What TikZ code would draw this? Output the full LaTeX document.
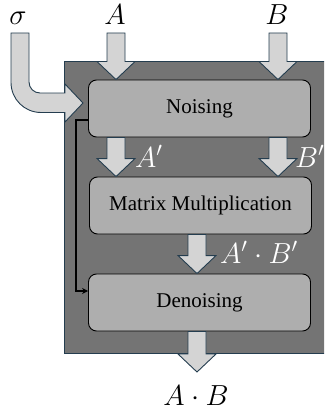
\RequirePackage{fix-cm}
\documentclass[tikz,border=0pt]{standalone}
\usepackage{fontspec}
\setmainfont{Liberation Serif}
\usetikzlibrary{calc,arrows.meta}

\definecolor{panelgray}{HTML}{747474}
\definecolor{boxgray}{HTML}{AEAEAE}
\definecolor{arrowgray}{HTML}{D4D4D4}
\definecolor{slate}{HTML}{243D4F}

\tikzset{
  stagebox/.style={draw=black, line width=0.9pt, fill=boxgray, rounded corners=8pt,
    minimum width=222pt, minimum height=57pt, inner sep=0pt,
    font=\fontsize{21}{24}\selectfont},
  blockarrow/.style={draw=slate, line width=0.9pt, fill=arrowgray, line join=miter},
  panel/.style={draw=slate, line width=1pt, fill=panelgray},
  varlabel/.style={inner sep=0pt, anchor=base, font=\fontsize{29}{32}\selectfont},
  flowlabel/.style={varlabel, text=white, anchor=base west},
  bypass/.style={draw=black, line width=1.2pt, -{Stealth[length=6pt,width=6pt]}},
}

% block arrow pointing down: #1 = top of the shaft, #2 = tip
\newcommand\downblock[2]{%
  \path #1 coordinate (db-s);
  \path #2 coordinate (db-t);
  \draw[blockarrow] ($(db-s)+(-9,0)$) -- ($(db-t)+(-9,-18)$) -- ($(db-t)+(-19,-18)$)
    -- (db-t) -- ($(db-t)+(19,-18)$) -- ($(db-t)+(9,-18)$) -- ($(db-s)+(9,0)$) -- cycle;}

\begin{document}
\begin{tikzpicture}[x=1pt, y=-1pt]
  \useasboundingbox (0,0) rectangle (324,412);
  \clip (0,0) rectangle (324,412);

  % dark panel behind the pipeline
  \draw[panel] (64,62) rectangle (340,353);

  % pipeline stages
  \node[stagebox] (noise)   at (199.5,108.5) {Noising};
  \node[stagebox] (matmul)  at (200.5,205.5) {Matrix Multiplication};
  \node[stagebox] (denoise) at (199.5,302.5) {Denoising};

  % inputs and output
  \node[varlabel] (sig)  at (18,25)   {$\sigma$};
  \node[varlabel] (inA)  at (115,25)  {$A$};
  \node[varlabel] (inB)  at (277,25)  {$B$};
  \node[varlabel] (outAB) at (196,405) {$A\cdot B$};

  % intermediate values
  \node[flowlabel] (lA)  at (135,167) {$A'$};
  \node[flowlabel] (lB)  at (295,167) {$B'$};
  \node[flowlabel] (lAB) at (220,263) {$A'\cdot B'$};

  % block arrows between the stages
  \downblock{(116,33)}{(116,0 |- noise.north)}
  \downblock{(278,33)}{(278,0 |- noise.north)}
  \downblock{(116,0 |- noise.south)}{(116,0 |- matmul.north)}
  \downblock{(278,0 |- noise.south)}{(278,0 |- matmul.north)}
  \downblock{(197,0 |- matmul.south)}{(197,0 |- denoise.north)}
  \downblock{(197,0 |- denoise.south)}{(197,372)}

  % bent arrow carrying sigma into the noising stage
  \draw[blockarrow] (29,33) -- (29,82) .. controls (29,88.1) and (33.9,93) .. (40,93)
    -- (65,93) -- (65,84) -- (83,103) -- (65,122) -- (65,112.5) -- (41,112.5)
    .. controls (24.4,112.5) and (11,99.1) .. (11,82.5) -- (11,33) -- cycle;

  % noise parameters passed on to the denoising stage
  \draw[bypass] (noise.west |- 0,120) -- (76,120) |- (denoise.west |- 0,291);
\end{tikzpicture}
\end{document}
